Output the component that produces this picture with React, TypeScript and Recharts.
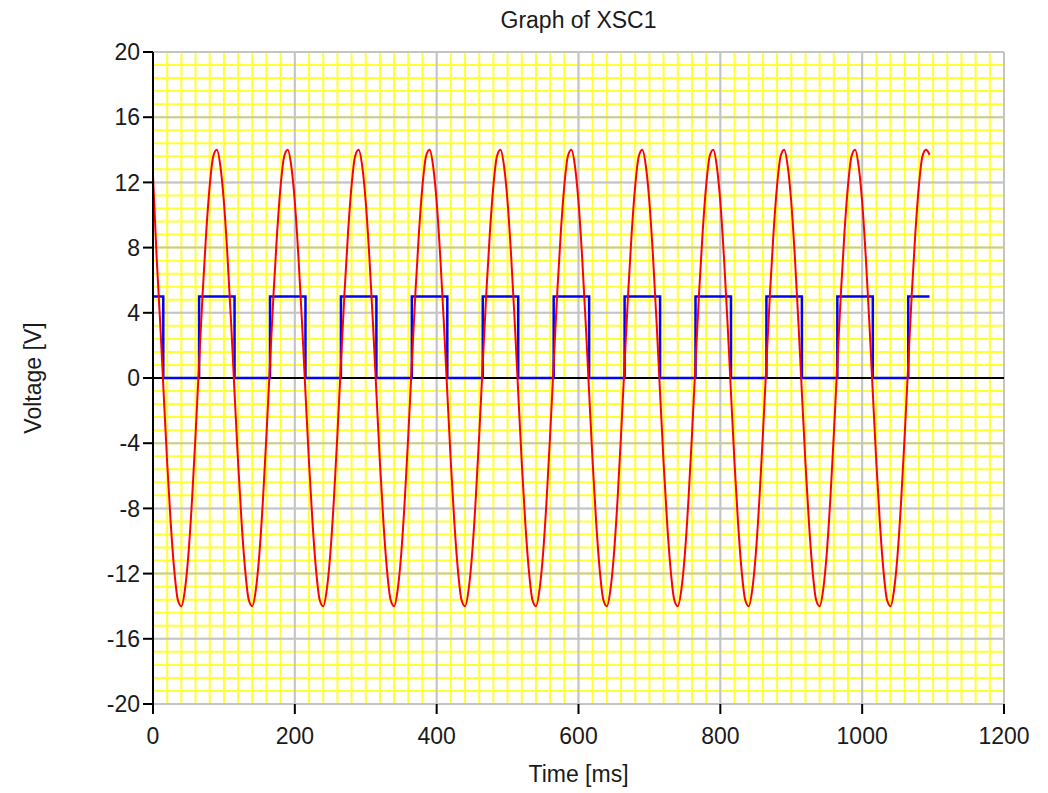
import { LineChart, Line, XAxis, YAxis, CartesianGrid } from 'recharts'

// scope trace, red = sine input, blue = comparator output
const TIME_STEP = 5 // ms between red samples

// red channel, one row per 100 ms period
const RED_V = [
  12.4, 7.5, 3.5, -0.9, -5.2, -8.9, -11.8, -13.6, -14.0, -13.0, -10.8, -7.5, -3.5, 0.9, 5.2, 8.9, 11.8, 13.6, 14.0, 13.0,
  10.8, 7.5, 3.5, -0.9, -5.2, -8.9, -11.8, -13.6, -14.0, -13.0, -10.8, -7.5, -3.5, 0.9, 5.2, 8.9, 11.8, 13.6, 14.0, 13.0,
  10.8, 7.5, 3.5, -0.9, -5.2, -8.9, -11.8, -13.6, -14.0, -13.0, -10.8, -7.5, -3.5, 0.9, 5.2, 8.9, 11.8, 13.6, 14.0, 13.0,
  10.8, 7.5, 3.5, -0.9, -5.2, -8.9, -11.8, -13.6, -14.0, -13.0, -10.8, -7.5, -3.5, 0.9, 5.2, 8.9, 11.8, 13.6, 14.0, 13.0,
  10.8, 7.5, 3.5, -0.9, -5.2, -8.9, -11.8, -13.6, -14.0, -13.0, -10.8, -7.5, -3.5, 0.9, 5.2, 8.9, 11.8, 13.6, 14.0, 13.0,
  10.8, 7.5, 3.5, -0.9, -5.2, -8.9, -11.8, -13.6, -14.0, -13.0, -10.8, -7.5, -3.5, 0.9, 5.2, 8.9, 11.8, 13.6, 14.0, 13.0,
  10.8, 7.5, 3.5, -0.9, -5.2, -8.9, -11.8, -13.6, -14.0, -13.0, -10.8, -7.5, -3.5, 0.9, 5.2, 8.9, 11.8, 13.6, 14.0, 13.0,
  10.8, 7.5, 3.5, -0.9, -5.2, -8.9, -11.8, -13.6, -14.0, -13.0, -10.8, -7.5, -3.5, 0.9, 5.2, 8.9, 11.8, 13.6, 14.0, 13.0,
  10.8, 7.5, 3.5, -0.9, -5.2, -8.9, -11.8, -13.6, -14.0, -13.0, -10.8, -7.5, -3.5, 0.9, 5.2, 8.9, 11.8, 13.6, 14.0, 13.0,
  10.8, 7.5, 3.5, -0.9, -5.2, -8.9, -11.8, -13.6, -14.0, -13.0, -10.8, -7.5, -3.5, 0.9, 5.2, 8.9, 11.8, 13.6, 14.0, 13.0,
  10.8, 7.5, 3.5, -0.9, -5.2, -8.9, -11.8, -13.6, -14.0, -13.0, -10.8, -7.5, -3.5, 0.9, 5.2, 8.9, 11.8, 13.6, 14.0, 13.7,
]

// blue channel: 5 V / 0 V square wave, edge times in ms
const BLUE_HIGH = 5
const BLUE_START = 0
const BLUE_END = 1095
const BLUE_FALLS = [14.5, 115, 215, 315, 415, 515, 615, 715, 815, 915, 1015]
const BLUE_RISES = [65, 165, 265, 365, 465, 565, 665, 765, 865, 965, 1065]

const X_TICKS = [0, 200, 400, 600, 800, 1000, 1200]
const Y_TICKS = [-20, -16, -12, -8, -4, 0, 4, 8, 12, 16, 20]
const X_MINOR_STEP = 20
const Y_MINOR_STEP = 0.8

const X_MINOR = Array.from({ length: 1200 / X_MINOR_STEP + 1 }, (_, i) => i * X_MINOR_STEP)
const Y_MINOR = Array.from({ length: Math.round(40 / Y_MINOR_STEP) + 1 }, (_, i) => +(-20 + i * Y_MINOR_STEP).toFixed(2))

const redData = RED_V.map((v, i) => ({ t: i * TIME_STEP, v }))

const blueData: { t: number; v: number }[] = [{ t: BLUE_START, v: BLUE_HIGH }]
BLUE_FALLS.forEach((f, i) => {
  blueData.push({ t: f, v: BLUE_HIGH }, { t: f, v: 0 })
  const r = BLUE_RISES[i]
  if (r != null) blueData.push({ t: r, v: 0 }, { t: r, v: BLUE_HIGH })
})
blueData.push({ t: BLUE_END, v: BLUE_HIGH })

const zeroData = [{ t: X_TICKS[0], v: 0 }, { t: X_TICKS[X_TICKS.length - 1], v: 0 }]

const FONT = '"Liberation Sans", Arial, sans-serif'
const TEXT = '#1a1a1a'
const tickStyle = { fontSize: 23, fill: TEXT, fontFamily: FONT }

export default function App() {
  return (
    <div style={{ position: 'absolute', left: 0, top: 0, width: 1048, height: 793, background: '#fff', fontFamily: FONT, color: TEXT }}>
      <div style={{ position: 'absolute', left: 153, width: 851, top: 7, textAlign: 'center', fontSize: 23 }}>
        Graph of XSC1
      </div>
      <div style={{ position: 'absolute', left: 153, width: 851, top: 761, textAlign: 'center', fontSize: 23 }}>
        Time [ms]
      </div>
      <div
        style={{
          position: 'absolute', left: -67, top: 365, width: 200, height: 26, lineHeight: '26px',
          textAlign: 'center', fontSize: 23, transform: 'rotate(-90deg)',
        }}
      >
        Voltage [V]
      </div>

      <LineChart width={1048} height={793} margin={{ top: 52, right: 44, bottom: 29, left: 0 }}>
        <XAxis
          type="number"
          dataKey="t"
          domain={[0, 1200]}
          ticks={X_TICKS}
          interval={0}
          allowDataOverflow
          height={60}
          axisLine={false}
          tickLine={{ stroke: '#000', strokeWidth: 2 }}
          tickSize={10}
          tickMargin={14}
          tick={tickStyle}
        />
        <YAxis
          type="number"
          domain={[-20, 20]}
          ticks={Y_TICKS}
          interval={0}
          allowDataOverflow
          width={153}
          axisLine={{ stroke: '#000', strokeWidth: 2 }}
          tickLine={{ stroke: '#000', strokeWidth: 2 }}
          tickSize={10}
          tickMargin={3}
          tick={tickStyle}
        />

        {/* fine yellow grid, then the grey major grid over it */}
        <CartesianGrid verticalValues={X_MINOR} horizontalValues={Y_MINOR} stroke="#ffff33" strokeWidth={2} />
        <CartesianGrid stroke="#c4c4c4" strokeWidth={2} />

        <Line data={zeroData} dataKey="v" type="linear" stroke="#000" strokeWidth={2} dot={false} isAnimationActive={false} />
        <Line data={blueData} dataKey="v" type="linear" stroke="#0000ff" strokeWidth={2.5} dot={false} isAnimationActive={false} />
        <Line data={redData} dataKey="v" type="monotone" stroke="#ff0000" strokeWidth={2} dot={false} isAnimationActive={false} />
      </LineChart>
    </div>
  )
}
